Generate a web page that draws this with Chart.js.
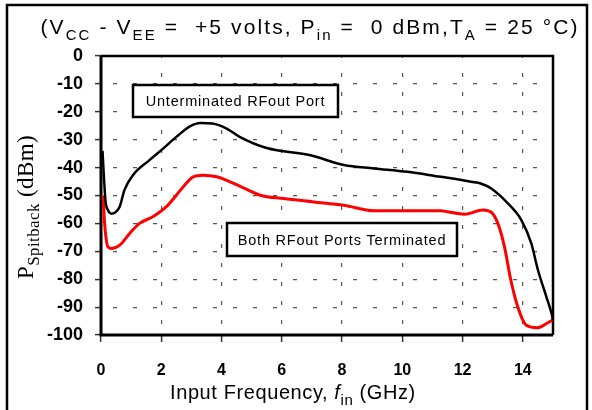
<!DOCTYPE html>
<html>
<head>
<meta charset="utf-8">
<script src="https://cdn.jsdelivr.net/npm/chart.js@4"></script>
<style>
  html, body { margin: 0; padding: 0; background: #fff; }
  #wrap { width: 592px; height: 410px; position: relative; }
</style>
</head>
<body>
<div id="wrap"><canvas id="chart" width="592" height="410"></canvas></div>
<script>
// Input frequency (GHz) and spitback power (dBm)
const freqUnterminated = [0.05, 0.1, 0.15, 0.23, 0.35, 0.45, 0.62, 0.78, 1.06, 1.6, 2.06, 2.5, 2.95, 3.3, 3.7, 4.17, 4.6, 5.5, 6.95, 8.06, 9.06, 10.17, 11.28, 11.73, 12.28, 12.6, 12.95, 13.5, 13.95, 14.28, 14.5, 14.78, 14.95, 15.0]
const pUnterminated = [-34, -44, -52, -55.2, -56.5, -56.2, -54, -48, -42.7, -37.4, -33.2, -29, -25.2, -24, -24.2, -26, -29, -33, -35.6, -39.1, -40.3, -41.5, -43.3, -44, -45.1, -45.7, -47.5, -52.8, -58.8, -67.2, -76.7, -86.3, -92.2, -94.8]

const freqTerminated = [0.07, 0.12, 0.23, 0.35, 0.62, 0.95, 1.28, 1.72, 2.17, 2.5, 2.84, 3.06, 3.39, 3.84, 4.28, 4.6, 5.28, 6.06, 7.06, 8.06, 9.06, 10.17, 11.28, 11.5, 12.06, 12.67, 12.95, 13.17, 13.39, 13.6, 13.83, 14.1, 14.5, 14.8, 15.0]
const pTerminated = [-50, -60, -68.4, -69, -67.8, -63.6, -60, -57.6, -54, -49.9, -45.5, -43.3, -42.7, -43.3, -45.1, -46.6, -49.9, -51.1, -52.3, -53.5, -55.5, -55.5, -55.5, -55.8, -56.7, -55.2, -56, -60, -68.4, -80.3, -89.9, -96.4, -97.4, -95.8, -94.6]

const xTicks = [0, 2, 4, 6, 8, 10, 12, 14]
const yTicks = [0, -10, -20, -30, -40, -50, -60, -70, -80, -90, -100]

const seriesNames = ['Unterminated RFout Port', 'Both RFout Ports Terminated']

const SANS = '"Liberation Sans", Arial, sans-serif'
const SERIF = '"Liberation Serif", "Times New Roman", serif'

function toPoints(xs, ys) {
    return xs.map((x, i) => ({ x: x, y: ys[i] }))
}

// a run of text pieces: [text, sub, italic]
function setPiece(ctx, p, size, family, subSize) {
    ctx.font = (p[2] ? 'italic ' : '') + (p[1] ? subSize : size) + 'px ' + family
}

function measureRich(ctx, parts, size, family, subSize, spacing) {
    ctx.letterSpacing = spacing + 'px'
    let w = 0
    parts.forEach(p => {
        setPiece(ctx, p, size, family, subSize)
        w += ctx.measureText(p[0]).width
    })
    ctx.letterSpacing = '0px'
    return w
}

function drawRich(ctx, x, y, parts, size, family, subSize, spacing) {
    ctx.letterSpacing = spacing + 'px'
    let cx = x
    parts.forEach(p => {
        setPiece(ctx, p, size, family, subSize)
        ctx.fillText(p[0], cx, p[1] ? y + size * 0.28 : y)
        cx += ctx.measureText(p[0]).width
    })
    ctx.letterSpacing = '0px'
}

const decorations = {
    id: 'decorations',
    beforeDatasetsDraw(chart) {
        const ctx = chart.ctx
        const a = chart.chartArea
        ctx.save()
        ctx.strokeStyle = '#000'
        ctx.lineWidth = 2.5
        ctx.beginPath()
        ctx.moveTo(a.left, a.top)
        ctx.lineTo(a.right, a.top)
        ctx.lineTo(a.right, a.bottom)
        ctx.stroke()
        ctx.lineWidth = 3
        ctx.beginPath()
        ctx.moveTo(a.left, a.top)
        ctx.lineTo(a.left, a.bottom)
        ctx.lineTo(a.right, a.bottom)
        ctx.stroke()
        ctx.restore()
    },
    afterDraw(chart) {
        const ctx = chart.ctx
        ctx.save()
        ctx.fillStyle = '#000'
        ctx.textBaseline = 'alphabetic'

        // outer frame
        ctx.strokeStyle = '#000'
        ctx.lineWidth = 2.5
        ctx.beginPath()
        ctx.moveTo(7, 420)
        ctx.lineTo(7, 5)
        ctx.lineTo(587, 5)
        ctx.lineTo(587, 420)
        ctx.stroke()

        // conditions line
        const title = [['(V', false], ['CC', true], [' - V', false], ['EE', true], [' =  +5 volts, P', false], ['in', true], [' =  0 dBm,T', false], ['A', true], [' = 25 \u00B0C)', false]]
        const tw = measureRich(ctx, title, 21, SANS, 15, 2.1)
        drawRich(ctx, 310 - tw / 2, 34, title, 21, SANS, 15, 2.1)

        // x axis title
        const xt = [['Input Frequency, ', false], ['f', false, true], ['in', true], [' (GHz)', false]]
        drawRich(ctx, 170, 399, xt, 20, SANS, 15, 0.6)

        // y axis title
        ctx.save()
        ctx.translate(33, 207)
        ctx.rotate(-Math.PI / 2)
        const yt = [['P', false], ['Spitback', true], [' (dBm)', false]]
        const yw = measureRich(ctx, yt, 23, SERIF, 17, 0.4)
        drawRich(ctx, -yw / 2, 0, yt, 23, SERIF, 17, 0.4)
        ctx.restore()

        // series labels in boxes
        const boxes = [
            { name: seriesNames[0], l: 133, t: 85, r: 338, b: 117 },
            { name: seriesNames[1], l: 227, t: 223, r: 457, b: 256 },
        ]
        boxes.forEach(bx => {
            ctx.fillStyle = '#fff'
            ctx.fillRect(bx.l, bx.t, bx.r - bx.l, bx.b - bx.t)
            ctx.lineWidth = 2.5
            ctx.strokeStyle = '#000'
            ctx.strokeRect(bx.l, bx.t, bx.r - bx.l, bx.b - bx.t)
            ctx.fillStyle = '#000'
            ctx.font = '14.5px ' + SANS
            ctx.letterSpacing = '0.8px'
            ctx.textAlign = 'center'
            ctx.fillText(bx.name, (bx.l + bx.r) / 2, (bx.t + bx.b) / 2 + 5)
            ctx.letterSpacing = '0px'
            ctx.textAlign = 'left'
        })
        ctx.restore()
    }
}

new Chart(document.getElementById('chart'), {
    type: 'scatter',
    data: {
        datasets: [
            {
                label: seriesNames[0],
                data: toPoints(freqUnterminated, pUnterminated),
                showLine: true,
                borderColor: '#000',
                borderWidth: 2.5,
                pointRadius: 0,
                cubicInterpolationMode: 'monotone',
            },
            {
                label: seriesNames[1],
                data: toPoints(freqTerminated, pTerminated),
                showLine: true,
                borderColor: '#ff0000',
                borderWidth: 3,
                pointRadius: 0,
                cubicInterpolationMode: 'monotone',
            },
        ]
    },
    options: {
        responsive: false,
        animation: false,
        layout: { padding: { left: 0, top: 56, right: 39, bottom: 0 } },
        plugins: {
            legend: { display: false },
            tooltip: { enabled: false },
            title: { display: false },
        },
        scales: {
            x: {
                type: 'linear',
                min: 0,
                max: 15,
                afterBuildTicks: s => { s.ticks = xTicks.map(v => ({ value: v })) },
                afterFit: s => { s.height = 75 },
                border: { display: false, dash: [4, 15], dashOffset: 2 },
                grid: {
                    color: '#555',
                    lineWidth: 1.2,
                    tickLength: 7,
                    tickColor: '#333',
                    tickWidth: 1.5,
                    tickBorderDash: [],
                },
                ticks: {
                    padding: 19,
                    color: '#000',
                    font: { family: SANS, size: 16, weight: 'bold' },
                    maxRotation: 0,
                },
            },
            y: {
                type: 'linear',
                min: -100,
                max: 0,
                afterBuildTicks: s => { s.ticks = yTicks.map(v => ({ value: v })) },
                afterFit: s => { s.width = 101 },
                border: { display: false, dash: [4, 16], dashOffset: 8 },
                grid: {
                    color: '#555',
                    lineWidth: 1.2,
                    tickLength: 6,
                    tickColor: '#333',
                    tickWidth: 1.5,
                    tickBorderDash: [],
                },
                ticks: {
                    padding: 12,
                    color: '#000',
                    font: { family: SANS, size: 18, weight: 'bold' },
                },
            },
        },
    },
    plugins: [decorations],
})
</script>
</body>
</html>
